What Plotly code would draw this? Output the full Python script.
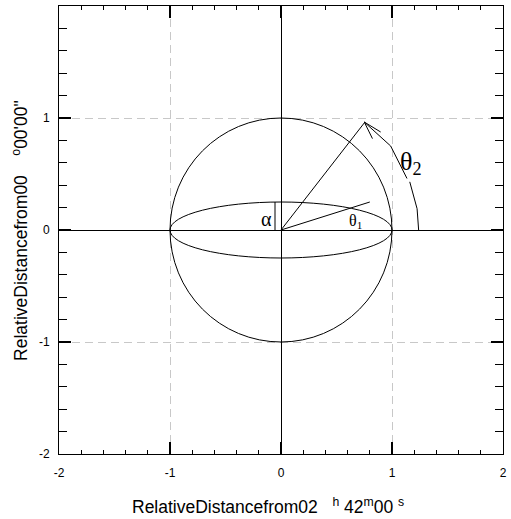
import plotly.graph_objects as go

# ---- data ----
tick_vals = [-2, -1, 0, 1, 2]
tick_text = ["-2", "-1", "0", "1", "2"]
axis_range = [-2, 2]

circle_radius = 1.0
ellipse_semi_x = 1.0
ellipse_semi_y = 0.25

theta1_x = [0.0, 0.80]
theta1_y = [0.0, 0.25]
theta2_x = [0.0, 0.755]
theta2_y = [0.0, 0.962]
alpha_x = [-0.054, -0.054]
alpha_y = [0.0, 0.25]

arc_x = [1.24, 1.226, 1.16, None, 1.135, 0.988, 0.75]
arc_y = [0.0, 0.19, 0.43, None, 0.46, 0.75, 0.964]
head_x = [0.898, 0.75, 0.824]
head_y = [0.875, 0.964, 0.816]

alpha_label = [-0.13, 0.10]
theta1_label = [0.67, 0.075]
theta2_label = [1.17, 0.60]

x_title = "RelativeDistancefrom02   <sup>h</sup> 42<sup>m</sup>00 <sup>s</sup>"
y_title = "RelativeDistancefrom00    <sup>o</sup>00'00\""

fig = go.Figure()
line_style = dict(color="black", width=1)
fig.add_trace(go.Scatter(x=theta1_x, y=theta1_y, mode="lines", line=line_style, showlegend=False, hoverinfo="skip"))
fig.add_trace(go.Scatter(x=theta2_x, y=theta2_y, mode="lines", line=line_style, showlegend=False, hoverinfo="skip"))
fig.add_trace(go.Scatter(x=alpha_x, y=alpha_y, mode="lines", line=line_style, showlegend=False, hoverinfo="skip"))
fig.add_trace(go.Scatter(x=arc_x, y=arc_y, mode="lines", line=line_style, showlegend=False, hoverinfo="skip", connectgaps=False))
fig.add_trace(go.Scatter(x=head_x, y=head_y, mode="lines", line=line_style, showlegend=False, hoverinfo="skip"))

fig.add_shape(type="circle", xref="x", yref="y",
              x0=-circle_radius, x1=circle_radius, y0=-circle_radius, y1=circle_radius,
              line=line_style, layer="above")
fig.add_shape(type="circle", xref="x", yref="y",
              x0=-ellipse_semi_x, x1=ellipse_semi_x, y0=-ellipse_semi_y, y1=ellipse_semi_y,
              line=line_style, layer="above")

serif = "Liberation Serif"
fig.add_annotation(x=alpha_label[0], y=alpha_label[1], text="α", showarrow=False,
                   font=dict(family=serif, size=20, color="black"))
fig.add_annotation(x=theta1_label[0], y=theta1_label[1], text="θ<sub>1</sub>", showarrow=False,
                   font=dict(family=serif, size=16, color="black"))
fig.add_annotation(x=theta2_label[0], y=theta2_label[1], text="θ<sub>2</sub>", showarrow=False,
                   font=dict(family=serif, size=26, color="black"))

sans = "Liberation Sans"
fig.add_annotation(xref="paper", yref="paper", x=0.47, y=-0.115, yanchor="middle", xanchor="center",
                   text=x_title, showarrow=False, font=dict(family=sans, size=17.5, color="black"))
fig.add_annotation(xref="paper", yref="paper", x=-0.088, y=0.5, xanchor="center", yanchor="middle",
                   text=y_title, textangle=-90, showarrow=False, font=dict(family=sans, size=17.5, color="black"))

axis_common = dict(
    range=axis_range, tickvals=tick_vals, ticktext=tick_text,
    showline=True, linecolor="black", linewidth=1, mirror="allticks",
    ticks="inside", ticklen=12, tickwidth=2, tickcolor="black",
    showgrid=True, gridcolor="#c8c8c8", gridwidth=1, griddash="8px,5px",
    zeroline=True, zerolinecolor="black", zerolinewidth=1,
    tickfont=dict(family=sans, size=12, color="black"),
    fixedrange=True,
)

fig.update_xaxes(**axis_common, ticklabelstandoff=8,
                 minor=dict(dtick=0.2, tick0=0, ticks="inside", ticklen=4, tickwidth=1, tickcolor="black", showgrid=False))
fig.update_yaxes(**axis_common, ticklabelstandoff=6,
                 minor=dict(dtick=0.2, tick0=0, ticks="inside", ticklen=8, tickwidth=1, tickcolor="black", showgrid=False))

fig.update_layout(
    width=511, height=519,
    margin=dict(l=59, r=4, t=6, b=65),
    paper_bgcolor="white", plot_bgcolor="white",
    showlegend=False,
)

fig.write_html("out.html", config={"displayModeBar": False},
               post_script="document.body.style.margin='0';document.body.style.overflow='hidden';")
